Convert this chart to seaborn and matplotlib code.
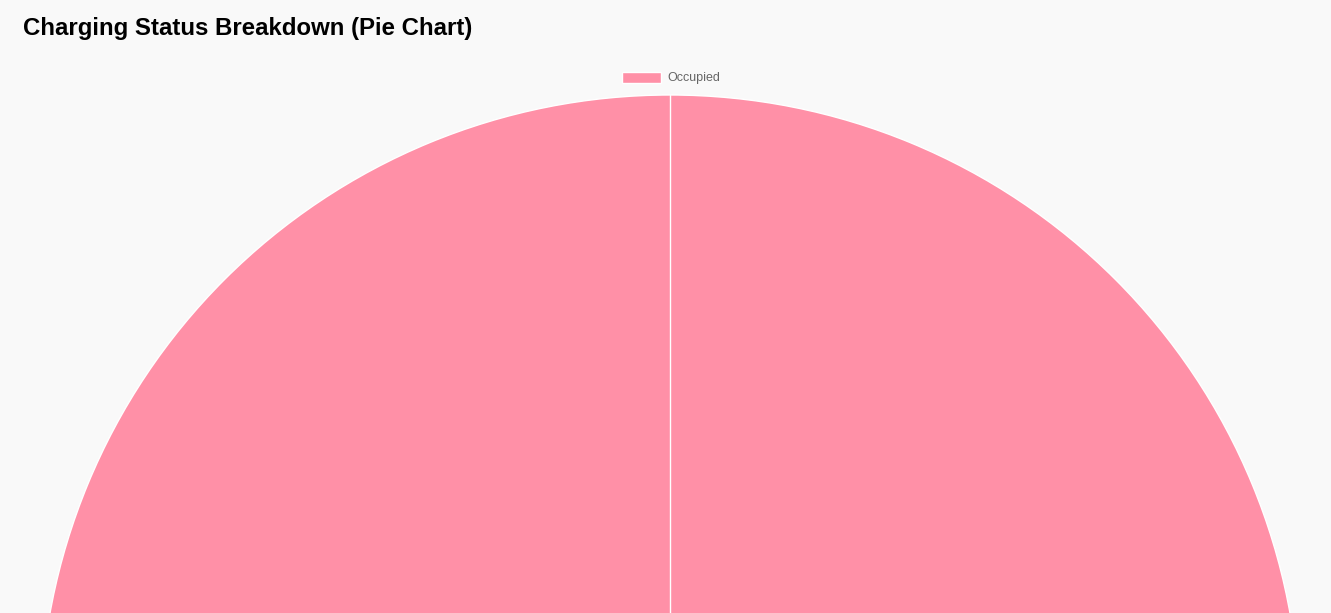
import matplotlib
matplotlib.use('Agg')
import matplotlib.pyplot as plt
import seaborn as sns

# data
status_labels = ['Occupied']
status_counts = [1]
status_colors = ['#FF90A7']

sns.set_theme(style='white', rc={'figure.facecolor': '#F9F9F9', 'axes.facecolor': '#F9F9F9'})
plt.rcParams['font.family'] = ['Liberation Sans', 'DejaVu Sans']

fig = plt.figure(figsize=(13.31, 6.13), dpi=100)
ax = fig.add_axes([0, 0, 1, 1])

# axes in pixel units, y up; pie is bigger than the canvas and gets cut at the bottom
wedges, _ = ax.pie(status_counts, labels=None, colors=status_colors, startangle=90,
                   counterclock=False, center=(670, 613 - 725), radius=630,
                   wedgeprops={'edgecolor': 'white', 'linewidth': 1})
# a full-circle wedge has no radial edge, chart.js draws one at the start angle
w = wedges[0]
ax.plot([w.center[0], w.center[0]], [w.center[1], w.center[1] + w.r], color='white', lw=1)
ax.set_xlim(0, 1331)
ax.set_ylim(0, 613)
ax.set_aspect('equal')
ax.axis('off')

fig.text(23 / 1331, 1 - 29 / 613, 'Charging Status Breakdown (Pie Chart)',
         fontsize=17.3, fontweight='bold', color='black', va='center', ha='left')

leg = ax.legend(wedges, status_labels, loc='center', bbox_to_anchor=(671 / 1331, 1 - 78 / 613),
                frameon=False, fontsize=9, handlelength=3.1, handleheight=1.0,
                handletextpad=0.55, labelcolor='#666666')

fig.savefig('out.png', dpi=100, facecolor=fig.get_facecolor())
